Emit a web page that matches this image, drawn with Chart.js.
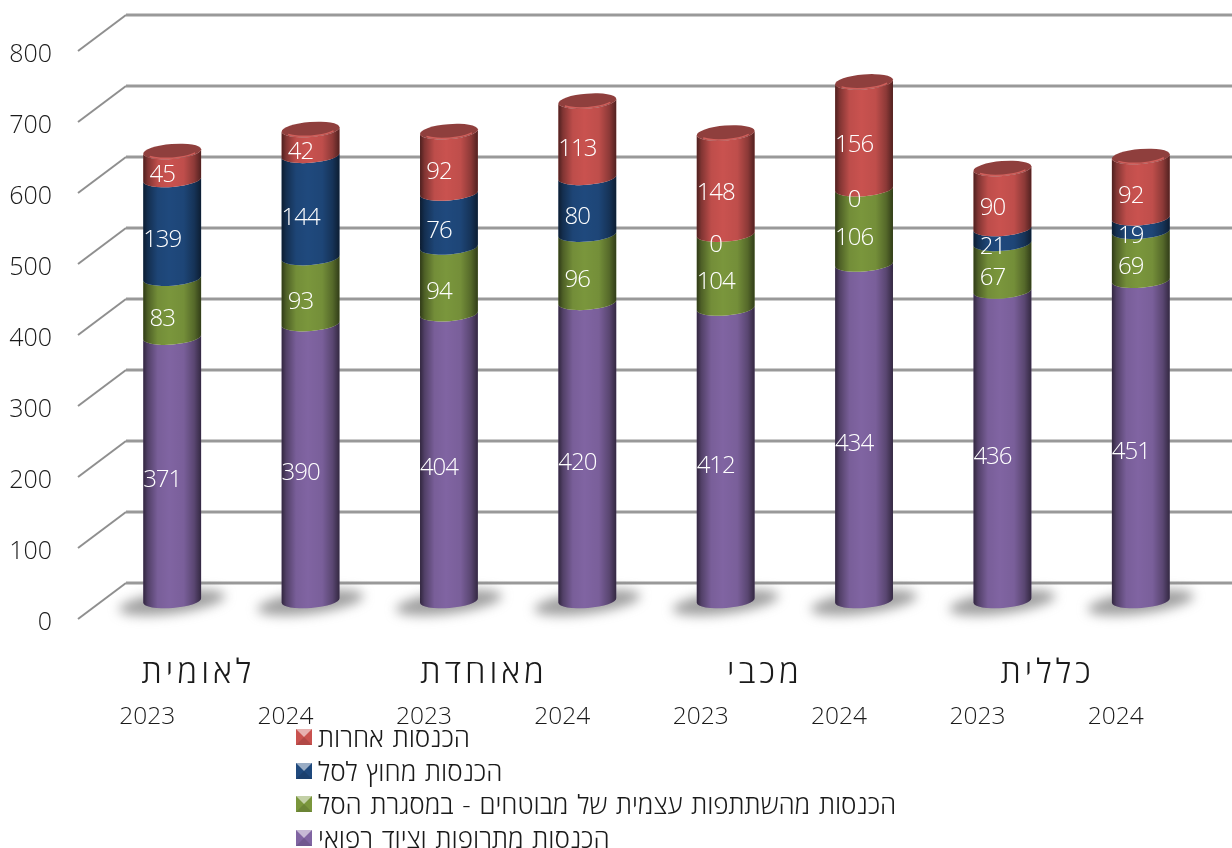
<!DOCTYPE html>
<html lang="he">
<head>
<meta charset="utf-8">
<title>הכנסות קופות החולים</title>
<script src="https://cdn.jsdelivr.net/npm/chart.js@4/dist/chart.umd.min.js"></script>
<style>
  html, body { margin: 0; background: #fff; overflow: hidden; }
  #wrap { position: relative; width: 1232px; height: 848px; }
  #legend { position: absolute; left: 296px; top: 720px; font: 300 26px "Open Sans", sans-serif; word-spacing: 2px; color: #1a1a1a; }
  .row { display: flex; align-items: center; height: 33.7px; white-space: nowrap; }
  .swatch { width: 0; height: 0; border-style: solid; border-width: 8px; margin-right: 6px; }
</style>
</head>
<body>
<div id="wrap">
  <canvas id="chart" width="1232" height="848"></canvas>
  <div id="legend"></div>
</div>
<script>
const years = ["2023", "2024", "2023", "2024", "2023", "2024", "2023", "2024"];
const funds = ["לאומית", "מאוחדת", "מכבי", "כללית"];

const seriesNames = [
  "הכנסות מתרופות וציוד רפואי",
  "הכנסות מהשתתפות עצמית של מבוטחים - במסגרת הסל",
  "הכנסות מחוץ לסל",
  "הכנסות אחרות",
];
const medical = [371, 390, 404, 420, 412, 474, 436, 451];
const copay = [83, 93, 94, 96, 104, 106, 67, 69];
const outside = [139, 144, 76, 80, 0, 0, 21, 19];
const other = [45, 42, 92, 113, 148, 156, 90, 92];
// the sixth purple column stands about 474 tall in the picture but is printed 434
const medicalPrinted = [371, 390, 404, 420, 412, 434, 436, 451];

const COLORS = ["#8064a2", "#7a963c", "#1f497d", "#c9524f"];
const CAP_COLOR = "#8f3f3d";
const FONT = '"Open Sans", sans-serif';
const TEXT = "#1a1a1a";

// depth of the fake 3D floor, and where the columns stand inside it
const DEPTH_X = 48, DEPTH_Y = 36;
const BAR_DX = 25, BAR_DY = -18.5;
const RY = 7.5, TILT = -0.08;
const CAP_SINK = 4; // the rounded top edge eats a little of the last segment
const GROUP_NUDGE = [-18, -9, -5, 1];

function shade(ctx, left, right) {
  const g = ctx.createLinearGradient(left, 0, right, 0);
  g.addColorStop(0, "rgba(0,0,0,.62)");
  g.addColorStop(0.08, "rgba(0,0,0,.36)");
  g.addColorStop(0.25, "rgba(0,0,0,.06)");
  g.addColorStop(0.45, "rgba(0,0,0,0)");
  g.addColorStop(0.7, "rgba(0,0,0,.05)");
  g.addColorStop(0.88, "rgba(0,0,0,.3)");
  g.addColorStop(1, "rgba(0,0,0,.6)");
  return g;
}

function drawSegment(ctx, el, color, sink) {
  const rx = el.width / 2;
  ctx.beginPath();
  ctx.ellipse(el.x, el.base, rx, RY, TILT, Math.PI, 0, true);
  ctx.ellipse(el.x, el.y + sink, rx, RY, TILT, 0, Math.PI, false);
  ctx.closePath();
  ctx.fillStyle = color;
  ctx.fill();
  ctx.fillStyle = shade(ctx, el.x - rx, el.x + rx);
  ctx.fill();
}

function drawCap(ctx, el) {
  const rx = el.width / 2;
  const y = el.y + CAP_SINK;
  ctx.beginPath();
  ctx.ellipse(el.x, y, rx, RY, TILT, 0, Math.PI * 2);
  ctx.fillStyle = CAP_COLOR;
  ctx.fill();
  ctx.beginPath();
  ctx.ellipse(el.x, y, rx - 3, RY - 1, TILT, 0.5, Math.PI - 0.5, false);
  ctx.strokeStyle = "#cf5f5b";
  ctx.lineWidth = 1.5;
  ctx.stroke();
}

const floorPlugin = {
  id: "floor",
  beforeDatasetsDraw(chart) {
    const { ctx, chartArea, scales } = chart;
    ctx.save();
    scales.y.ticks.forEach((t) => {
      const y = scales.y.getPixelForValue(t.value);
      ctx.beginPath();
      ctx.moveTo(chartArea.left, y);
      ctx.lineTo(chartArea.left + DEPTH_X, y - DEPTH_Y);
      ctx.strokeStyle = "#8f8f8f";
      ctx.lineWidth = 2;
      ctx.stroke();
      ctx.beginPath();
      ctx.moveTo(chartArea.left + DEPTH_X, y - DEPTH_Y);
      ctx.lineTo(chartArea.right + DEPTH_X, y - DEPTH_Y);
      ctx.strokeStyle = "#999999";
      ctx.lineWidth = 3;
      ctx.stroke();
    });
    // blurred shadow lying on the floor under each column
    const meta = chart.getDatasetMeta(0);
    ctx.filter = "blur(6px)";
    ctx.fillStyle = "rgba(110,110,110,.66)";
    meta.data.forEach((el) => {
      ctx.beginPath();
      ctx.ellipse(el.x + BAR_DX, el.base + BAR_DY + 2, el.width * 0.92, 11, -0.13, 0, Math.PI * 2);
      ctx.fill();
    });
    ctx.restore();
  },
  beforeDatasetDraw() {
    return false; // columns are all painted together in afterDatasetsDraw
  },
  afterDatasetsDraw(chart) {
    const { ctx, data } = chart;
    const last = data.datasets.length - 1;
    ctx.save();
    ctx.translate(BAR_DX, BAR_DY);
    data.datasets.forEach((ds, d) => {
      chart.getDatasetMeta(d).data.forEach((el, i) => {
        if (ds.data[i] > 0) drawSegment(ctx, el, COLORS[d], d === last ? CAP_SINK : 0);
      });
    });
    chart.getDatasetMeta(last).data.forEach((el) => drawCap(ctx, el));
    // value labels sit on the front face, a little left of the column's middle
    ctx.font = "350 24px " + FONT;
    ctx.letterSpacing = "-1px";
    ctx.fillStyle = "#ffffff";
    ctx.textAlign = "center";
    ctx.textBaseline = "middle";
    data.datasets.forEach((ds, d) => {
      chart.getDatasetMeta(d).data.forEach((el, i) => {
        const text = d === 0 ? medicalPrinted[i] : ds.data[i];
        ctx.fillText(String(text), el.x - 10, (el.y + el.base) / 2 + RY + 4);
      });
    });
    ctx.restore();
  },
  afterDraw(chart) {
    const { ctx, scales } = chart;
    ctx.save();
    ctx.font = "300 33px " + FONT;
    ctx.letterSpacing = "4px";
    ctx.fillStyle = TEXT;
    ctx.textAlign = "center";
    ctx.textBaseline = "middle";
    funds.forEach((name, i) => {
      const x = (scales.x.getPixelForValue(i * 2) + scales.x.getPixelForValue(i * 2 + 1)) / 2;
      ctx.fillText(name, x + GROUP_NUDGE[i], 674);
    });
    ctx.restore();
  },
};

new Chart(document.getElementById("chart"), {
  type: "bar",
  data: {
    labels: years,
    datasets: [medical, copay, outside, other].map((values, i) => ({
      label: seriesNames[i],
      data: values,
      backgroundColor: COLORS[i],
      barThickness: 58,
    })),
  },
  options: {
    responsive: false,
    animation: false,
    layout: { padding: { top: 51, right: 47 } },
    plugins: { legend: { display: false }, tooltip: { enabled: false } },
    scales: {
      x: {
        stacked: true,
        grid: { display: false },
        border: { display: false },
        afterFit: (s) => { s.height = 229; },
        ticks: { color: TEXT, padding: 75, maxRotation: 0, autoSkip: false, font: { family: FONT, size: 24.5, weight: 350 } },
      },
      y: {
        stacked: true,
        min: 0,
        max: 800,
        grid: { display: false },
        border: { display: false },
        afterFit: (s) => { s.width = 78; },
        ticks: {
          stepSize: 100,
          color: TEXT,
          padding: 18,
          callback: (v) => ["", String(v)], // empty first line pushes the number down to sit on the front edge
          font: { family: FONT, size: 25, weight: 350, lineHeight: "8px" },
        },
      },
    },
  },
  plugins: [floorPlugin],
});

document.getElementById("legend").innerHTML = seriesNames.map((name, i) => {
  const c = COLORS[i];
  const top = `color-mix(in srgb, ${c}, white 55%)`;
  const bottom = `color-mix(in srgb, ${c}, black 12%)`;
  return `<div class="row"><span class="swatch" style="border-color:${top} ${c} ${bottom} ${c}"></span><span>${name}</span></div>`;
}).reverse().join("");
</script>
</body>
</html>
